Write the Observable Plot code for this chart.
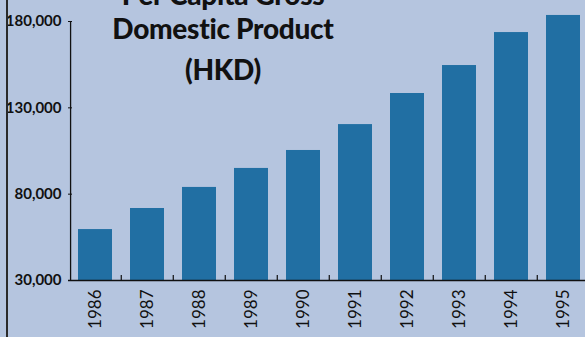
<!DOCTYPE html>
<html>
<head>
<meta charset="utf-8">
<script src="https://cdn.jsdelivr.net/npm/d3@7"></script>
<script src="https://cdn.jsdelivr.net/npm/@observablehq/plot@0.6"></script>
<style>
  html, body { margin: 0; padding: 0; background: #b5c5df; }
  #wrap { position: relative; width: 585px; height: 337px; overflow: hidden; background: #b5c5df; }
  #chart { position: absolute; left: 0; top: 0; }
  #title { position: absolute; left: 0; top: -33px; width: 446px; text-align: center; font-family: Lato, sans-serif; font-weight: 900; font-size: 28px; line-height: 41px; color: #111; letter-spacing: -0.3px; }
  #title div:first-child { position: relative; top: 7px; }
  #border { position: absolute; left: 6px; top: 0; width: 2px; height: 337px; background: #2a2a2a; }
  #chart g[aria-label="y-axis tick label"], #chart g[aria-label="y-axis tick label"] text { font-weight: 700; }
</style>
</head>
<body>
<div id="wrap">
  <div id="chart"></div>
  <div id="title"></div>
  <div id="border"></div>
</div>
<script>
// ---- data ----
const years = ["1986", "1987", "1988", "1989", "1990", "1991", "1992", "1993", "1994", "1995"];
const gdpPerCapita = [59500, 71700, 83900, 94900, 105300, 120300, 138300, 154500, 173600, 183500];
const yTicks = [30000, 80000, 130000, 180000];
const titleLines = ["Per Capita Gross", "Domestic Product", "(HKD)"];

const data = years.map((year, i) => ({year, value: gdpPerCapita[i]}));

// ---- title ----
const title = document.getElementById("title");
titleLines.forEach(t => {
  const d = document.createElement("div");
  d.textContent = t;
  title.appendChild(d);
});

// ---- chart ----
const W = 585, H = 337;
const xRange = [68, 590];
const pIn = 0.35, pOut = 0.15;
const step = (xRange[1] - xRange[0]) / (years.length - pIn + 2 * pOut);
const bw = step * (1 - pIn);
const yMin = 30000, yMax = 180000;
const pxPerUnit = (280 - 21) / (yMax - yMin);

const chart = Plot.plot({
  width: W,
  height: H,
  marginLeft: 68,
  marginRight: 0,
  marginTop: 21,
  marginBottom: 57,
  style: {background: "transparent", fontFamily: "Lato, sans-serif", color: "#111", overflow: "visible"},
  x: {type: "band", domain: years, range: xRange, paddingInner: pIn, paddingOuter: pOut, label: null},
  y: {domain: [yMin, yMax], label: null},
  marks: [
    Plot.barY(data, {x: "year", y1: yMin, y2: "value", fill: "#216fa3"}),
    Plot.ruleY([yMin], {stroke: "#111", strokeWidth: 1.5}),
    Plot.ruleX([years[0]], {y1: yMin, y2: yMax, dx: -(step * pOut + bw / 2), stroke: "#111", strokeWidth: 1.3}),
    Plot.ruleX(years.slice(1), {y1: yMin, y2: yMin + 5 / pxPerUnit, dx: -step / 2, stroke: "#111", strokeWidth: 1.2}),
    Plot.axisY({ticks: yTicks, tickSize: 0, tickPadding: 7, tickFormat: d3.format(","), fontSize: 15, fontWeight: "bold", letterSpacing: "-0.3px", fill: "#111"}),
    Plot.axisY({ticks: yTicks, tickSize: 4, text: null, dx: 4, stroke: "#111"}),
    Plot.axisX({tickRotate: -90, tickSize: 0, tickPadding: 9, fontSize: 17, fill: "#111"})
  ]
});
document.getElementById("chart").appendChild(chart);
</script>
</body>
</html>
